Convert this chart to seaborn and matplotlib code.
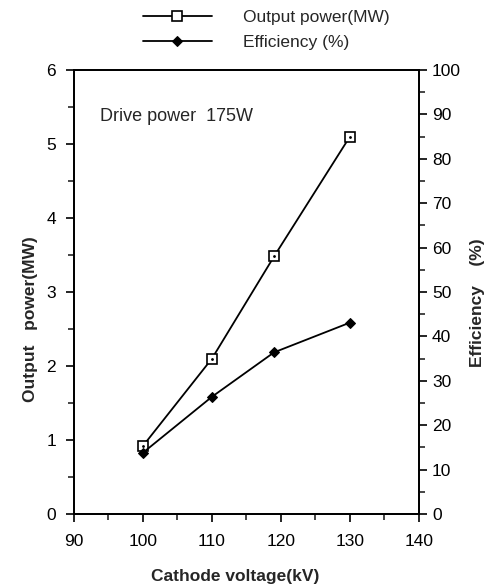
import matplotlib
matplotlib.use("Agg")
import matplotlib.pyplot as plt
import seaborn as sns
import pandas as pd
from matplotlib.ticker import MultipleLocator

# Data
voltage = [100, 110, 119, 130]
output_power = [0.92, 2.10, 3.48, 5.10]      # MW
efficiency = [13.8, 26.4, 36.4, 43.1]        # %

df = pd.DataFrame({"voltage": voltage, "power": output_power, "eff": efficiency})

sns.set_style("ticks")
plt.rcParams['font.family'] = ['Liberation Sans', 'DejaVu Sans']

fig = plt.figure(figsize=(4.98, 5.87), dpi=100)
ax = fig.add_axes([0.1486, 0.1244, 0.6925, 0.7563])
ax2 = ax.twinx()

sns.lineplot(data=df, x="voltage", y="power", ax=ax, color="black", lw=1.3,
             marker="s", markersize=7, markerfacecolor="white", markeredgecolor="black",
             markeredgewidth=1.2, label="Output power(MW)", legend=False)
# small dot inside the squares
ax.plot(df["voltage"], df["power"], ls="none", marker=".", markersize=2, color="black")
sns.lineplot(data=df, x="voltage", y="eff", ax=ax2, color="black", lw=1.3,
             marker="D", markersize=5.5, markerfacecolor="black", markeredgecolor="black",
             label="Efficiency (%)", legend=False)

ax.set_xlim(90, 140)
ax.set_ylim(0, 6)
ax2.set_ylim(0, 100)

ax.xaxis.set_major_locator(MultipleLocator(10))
ax.xaxis.set_minor_locator(MultipleLocator(5))
ax.yaxis.set_major_locator(MultipleLocator(1))
ax.yaxis.set_minor_locator(MultipleLocator(0.5))
ax2.yaxis.set_major_locator(MultipleLocator(10))
ax2.yaxis.set_minor_locator(MultipleLocator(5))

for a in (ax, ax2):
    for s in a.spines.values():
        s.set_linewidth(1.3)
        s.set_color("black")
    a.tick_params(which="major", length=6, width=1.2, labelsize=12.5, colors="black")
    a.tick_params(which="minor", length=4, width=1.2)
ax.tick_params(axis="x", which="major", pad=8.5)
ax.tick_params(axis="y", which="major", pad=7)

ax.set_xlabel("Cathode voltage(kV)", fontsize=12.5, fontweight="bold")
ax.xaxis.set_label_coords(0.467, -0.125)
ax.set_ylabel("Output   power(MW)", fontsize=12.5, fontweight="bold")
ax.yaxis.set_label_coords(-0.104, 0.44)
ax2.set_ylabel("Efficiency    (%)", fontsize=12.5, fontweight="bold", rotation=90)
ax2.yaxis.set_label_coords(1.148, 0.477)

ax.text(0.075, 0.885, "Drive power  175W", transform=ax.transAxes, fontsize=13)

h1, l1 = ax.get_legend_handles_labels()
h2, l2 = ax2.get_legend_handles_labels()
fig.legend(h1[:1] + h2, l1[:1] + l2, loc="upper center", bbox_to_anchor=(0.535, 1.01),
           frameon=False, fontsize=12.5, handlelength=4, handletextpad=1.8,
           labelspacing=0.55)

fig.savefig("out.png", dpi=100)
